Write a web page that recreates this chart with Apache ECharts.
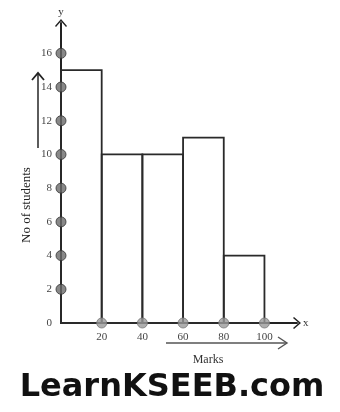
<!DOCTYPE html>
<html>
<head>
<meta charset="utf-8">
<style>html,body{margin:0;padding:0;background:#fff;}#c{width:340px;height:412px;}</style>
<script src="https://cdn.jsdelivr.net/npm/echarts@6/dist/echarts.min.js"></script>
</head>
<body>
<div id="c"></div>
<script>
// Class intervals (marks) and number of students
var binStarts = [0, 20, 40, 60, 80];
var binEnds = [20, 40, 60, 80, 100];
var students = [15, 10, 10, 11, 4];
// Tick marks shown as dots on the axes
var yTicks = [2, 4, 6, 8, 10, 12, 14, 16];
var xTicks = [20, 40, 60, 80, 100];

var serif = '"Liberation Serif", "DejaVu Serif", serif';
var chevUp = 'path://M0,0 L6,7 L5,8 L0,2.2 L-5,8 L-6,7 Z';

var chart = echarts.init(document.getElementById('c'));
var histData = binStarts.map(function (s, i) { return [s, binEnds[i], students[i]]; });

chart.setOption({
  animation: false,
  backgroundColor: '#fff',
  grid: { left: 61, right: 43, top: 23, bottom: 89 },
  xAxis: {
    type: 'value', min: 0, max: 116, interval: 20,
    name: 'x', nameLocation: 'end', nameGap: 6,
    nameTextStyle: { fontFamily: serif, fontSize: 11, color: '#333' },
    axisLine: { show: true, onZero: false, lineStyle: { color: '#222', width: 2 },
      symbol: ['none', chevUp], symbolSize: [12, 9], symbolOffset: [0, 0] },
    axisTick: { show: false },
    splitLine: { show: false },
    axisLabel: { margin: 9, fontFamily: serif, fontSize: 11, color: '#444', showMaxLabel: false,
      formatter: function (v) { return v === 0 ? '' : String(v); } }
  },
  yAxis: {
    type: 'value', min: 0, max: 17.8, interval: 2,
    name: 'y', nameLocation: 'end', nameGap: 5,
    nameTextStyle: { fontFamily: serif, fontSize: 11, color: '#333', align: 'center' },
    axisLine: { show: true, onZero: false, lineStyle: { color: '#222', width: 2 },
      symbol: ['none', chevUp], symbolSize: [12, 9] },
    axisTick: { show: false },
    splitLine: { show: false },
    axisLabel: { margin: 9, fontFamily: serif, fontSize: 11, color: '#444', showMaxLabel: false }
  },
  series: [
    {
      type: 'custom',
      renderItem: function (params, api) {
        var p0 = api.coord([api.value(0), 0]);
        var p1 = api.coord([api.value(1), api.value(2)]);
        return {
          type: 'rect',
          shape: { x: p0[0], y: p1[1], width: p1[0] - p0[0], height: p0[1] - p1[1] },
          style: { fill: 'none', stroke: '#2a2a2a', lineWidth: 1.8 }
        };
      },
      encode: { x: [0, 1], y: 2 },
      data: histData,
      z: 2
    },
    {
      type: 'scatter',
      symbolSize: 10,
      itemStyle: { color: '#6a6a6a', borderColor: '#333', borderWidth: 1 },
      data: yTicks.map(function (v) { return [0, v]; }),
      z: 5
    },
    {
      type: 'scatter',
      symbolSize: 10,
      itemStyle: { color: '#9a9a9a', borderColor: '#777', borderWidth: 1 },
      data: xTicks.map(function (v) { return [v, 0]; }),
      z: 5
    }
  ],
  graphic: [
    // side arrow along y axis
    { type: 'line', shape: { x1: 38, y1: 148, x2: 38, y2: 73 }, style: { stroke: '#333', lineWidth: 1.6 } },
    { type: 'polyline', shape: { points: [[32, 80], [38, 73], [44, 80]] }, style: { stroke: '#222', lineWidth: 1.8, fill: 'none' } },
    // arrow under x labels
    { type: 'line', shape: { x1: 166, y1: 343, x2: 287, y2: 343 }, style: { stroke: '#555', lineWidth: 1.4 } },
    { type: 'polyline', shape: { points: [[278, 337], [287, 343], [278, 349]] }, style: { stroke: '#555', lineWidth: 1.4, fill: 'none' } },
    { type: 'text', x: 208, y: 360, style: { text: 'Marks', fontFamily: serif, fontSize: 12, fill: '#333', align: 'center', verticalAlign: 'middle' } },
    { type: 'text', x: 27, y: 205, rotation: Math.PI / 2, style: { text: 'No of students', fontFamily: serif, fontSize: 13, fill: '#222', align: 'center', verticalAlign: 'middle' } },
    { type: 'text', x: 172, y: 388, style: { text: 'LearnKSEEB.com', fontFamily: '"DejaVu Sans", sans-serif', fontWeight: 'bold', fontSize: 32, fill: '#111', align: 'center', verticalAlign: 'middle' } }
  ]
});
</script>
</body>
</html>
